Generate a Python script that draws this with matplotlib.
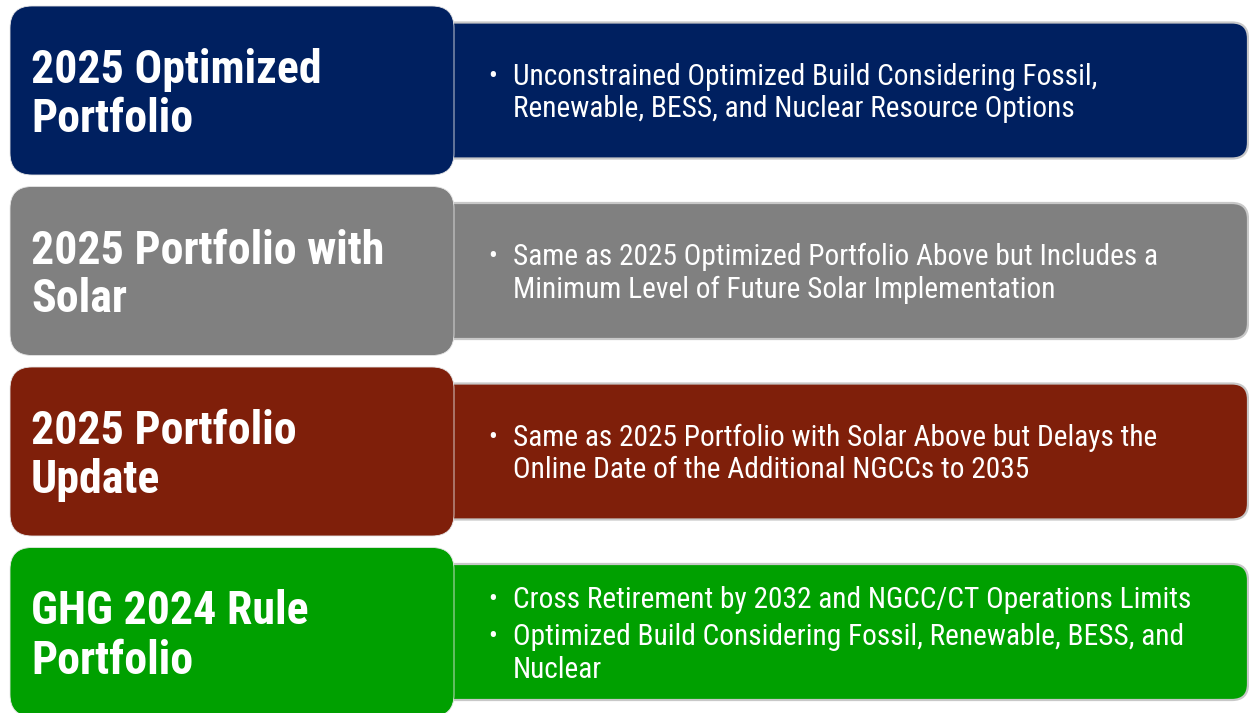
import matplotlib
matplotlib.use("Agg")
import matplotlib.pyplot as plt
from matplotlib.patches import FancyBboxPatch

# --- content ---
titles = [
    ["2025 Optimized", "Portfolio"],
    ["2025 Portfolio with", "Solar"],
    ["2025 Portfolio", "Update"],
    ["GHG 2024 Rule", "Portfolio"],
]
# each entry: list of bullets, each bullet a list of wrapped lines
bullets = [
    [["Unconstrained Optimized Build Considering Fossil,",
      "Renewable, BESS, and Nuclear Resource Options"]],
    [["Same as 2025 Optimized Portfolio Above but Includes a",
      "Minimum Level of Future Solar Implementation"]],
    [["Same as 2025 Portfolio with Solar Above but Delays the",
      "Online Date of the Additional NGCCs to 2035"]],
    [["Cross Retirement by 2032 and NGCC/CT Operations Limits"],
     ["Optimized Build Considering Fossil, Renewable, BESS, and",
      "Nuclear"]],
]
colors = ["#002060", "#808080", "#7F1F0A", "#00A000"]

W, H = 1249, 713
FONT = ["Roboto Condensed", "Liberation Sans", "DejaVu Sans"]

fig = plt.figure(figsize=(W / 100, H / 100), dpi=100)
ax = fig.add_axes([0, 0, 1, 1])
ax.set_xlim(0, W)
ax.set_ylim(H, 0)
ax.axis("off")

row_top0, row_step, left_h = 6, 180.5, 169
right_h = 136
title_cap, title_lh = 34, 49
body_cap, body_lh, para_gap = 21, 32.5, 5

for i, (tl, bl, c) in enumerate(zip(titles, bullets, colors)):
    top = row_top0 + i * row_step
    cy = top + left_h / 2

    # right description box (left corners hidden under title box)
    rb = FancyBboxPatch((430, cy - right_h / 2), 818, right_h,
                        boxstyle="round,pad=0,rounding_size=16",
                        fc=c, ec="#C8C8C8", lw=1.6, zorder=1)
    ax.add_patch(rb)

    # left title box
    lb = FancyBboxPatch((10, top), 444, left_h,
                        boxstyle="round,pad=0,rounding_size=22",
                        fc=c, ec="#E6E6E6", lw=0.6, zorder=2)
    ax.add_patch(lb)

    # title text
    span = title_cap + (len(tl) - 1) * title_lh
    y = cy - span / 2 + title_cap
    for line in tl:
        ax.text(31, y, line, color="white", fontsize=33, fontweight="bold",
                family=FONT, va="baseline", ha="left", zorder=3)
        y += title_lh

    # bullet text
    n_lines = sum(len(b) for b in bl)
    span = body_cap + (n_lines - 1) * body_lh + (len(bl) - 1) * para_gap
    y = cy - span / 2 + body_cap
    for b in bl:
        ax.text(488, y - 1, "\u2022", color="white", fontsize=19,
                family=FONT, va="baseline", ha="left", zorder=3)
        for line in b:
            ax.text(513, y, line, color="white", fontsize=21.2,
                    family=FONT, va="baseline", ha="left", zorder=3)
            y += body_lh
        y += para_gap

fig.savefig("out.png", dpi=100)
